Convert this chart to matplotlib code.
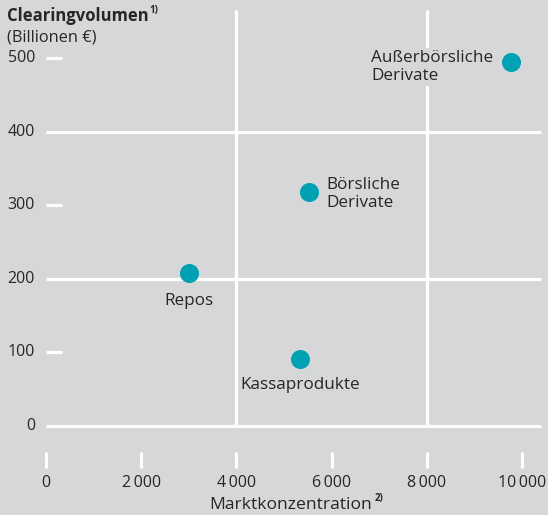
import matplotlib
matplotlib.use("Agg")
import matplotlib.pyplot as plt

# ---- data ----
categories = ["Repos", "Kassaprodukte", "Börsliche\nDerivate", "Außerbörsliche\nDerivate"]
x_values = [3000, 5340, 5520, 9770]        # Marktkonzentration
y_values = [208, 91, 318, 495]             # Clearingvolumen (Billionen €)
x_ticks = [0, 2000, 4000, 6000, 8000, 10000]
x_tick_labels = ["0", "2\u2009000", "4\u2009000", "6\u2009000", "8\u2009000", "10\u2009000"]
y_ticks = [0, 100, 200, 300, 400, 500]
y_tick_labels = ["0", "100", "200", "300", "400", "500"]
full_y_lines = [0, 200, 400]
short_y_lines = [100, 300, 500]
full_x_lines = [4000, 8000]

# label placement (data coords) and alignment
label_pos = [(3000, 170), (5347, 56), (5882, 315), (6828, 488)]
label_ha = ["center", "center", "left", "left"]

BG = "#d6d7d9"
TEAL = "#00a1b3"
TXT = "#262626"
FONT = ["Open Sans", "DejaVu Sans"]
plt.rcParams["font.family"] = FONT

W, H = 548, 515
fig = plt.figure(figsize=(W / 100, H / 100), dpi=100)
fig.patch.set_facecolor(BG)
ax = fig.add_axes([0, 0, 1, 1])
ax.set_facecolor(BG)
for s in ax.spines.values():
    s.set_visible(False)
ax.set_xticks([])
ax.set_yticks([])

# pixel -> data mapping: x0 at px 46, 0.0476 px per unit; y0 at px 426 (from top), 0.736 px per unit
px_per_x = 0.0476
px_per_y = 0.736
ax.set_xlim(-46 / px_per_x, (W - 46) / px_per_x)
ax.set_ylim((426 - H) / px_per_y, 426 / px_per_y)

lw = 2.3
x_line_end = (541 - 46) / px_per_x
short_len = 16 / px_per_x
v_top = (426 - 10) / px_per_y

for yv in full_y_lines:
    ax.plot([0, x_line_end], [yv, yv], color="white", lw=lw, solid_capstyle="butt", zorder=1)
for yv in short_y_lines:
    ax.plot([0, short_len], [yv, yv], color="white", lw=lw, solid_capstyle="butt", zorder=1)
for xv in full_x_lines:
    ax.plot([xv, xv], [0, v_top], color="white", lw=lw, solid_capstyle="butt", zorder=1)
tick_top = (426 - 452) / px_per_y
tick_bot = (426 - 468) / px_per_y
for xv in x_ticks:
    ax.plot([xv, xv], [tick_top, tick_bot], color="white", lw=lw, solid_capstyle="butt", zorder=1)

# tick labels
ylab_x = (35 - 46) / px_per_x
for yv, lab in zip(y_ticks, y_tick_labels):
    ax.text(ylab_x, yv, lab, ha="right", va="center", fontsize=11.5, color=TXT)
xlab_y = (426 - 483) / px_per_y
for xv, lab in zip(x_ticks, x_tick_labels):
    ax.text(xv, xlab_y, lab, ha="center", va="center", fontsize=11.5, color=TXT)

# points
ax.scatter(x_values, y_values, s=19 ** 2 * 0.52, color=TEAL, zorder=4, linewidths=0)

# labels
for (lx, ly), ha, lab in zip(label_pos, label_ha, categories):
    ax.text(lx, ly, lab, ha=ha, va="center", fontsize=12.3, color=TXT,
            linespacing=1.2, zorder=3, bbox=dict(facecolor=BG, edgecolor="none", pad=1.5))

# axis titles
def fy(py):
    return 1 - py / H

t1 = fig.text(7 / W, fy(16), "Clearingvolumen", ha="left", va="center",
              fontsize=12, fontweight="bold", color=TXT)
fig.text(7 / W, fy(38), "(Billionen €)", ha="left", va="center", fontsize=11.8, color=TXT)
t2 = fig.text(291 / W, fy(505), "Marktkonzentration", ha="center", va="center",
              fontsize=12.6, color=TXT)

fig.canvas.draw()
r = fig.canvas.get_renderer()
b1 = t1.get_window_extent(r)
fig.text((b1.x1 + 1) / W, fy(11), "1)", ha="left", va="center", fontsize=7,
         fontweight="bold", color=TXT)
b2 = t2.get_window_extent(r)
fig.text((b2.x1 + 2) / W, fy(499), "2)", ha="left", va="center", fontsize=7,
         fontweight="bold", color=TXT)

fig.savefig("out.png", dpi=100, facecolor=BG)
